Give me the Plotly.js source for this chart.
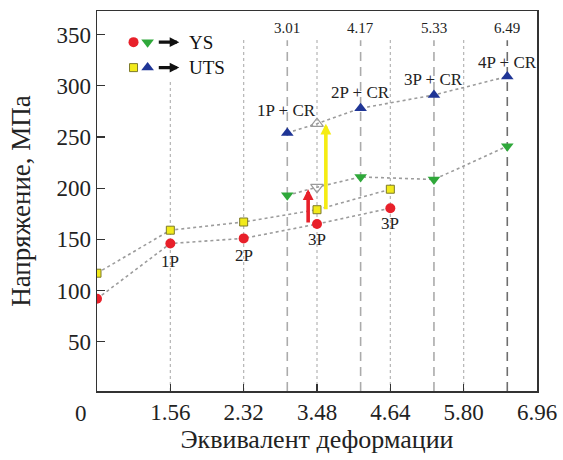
<!DOCTYPE html>
<html>
<head>
<meta charset="utf-8">
<script src="https://cdn.plot.ly/plotly-3.0.1.min.js"></script>
<style>html,body{margin:0;padding:0;background:#fff;}#chart{width:563px;height:460px;}</style>
</head>
<body>
<div id="chart"></div>
<script>
// ---- data ----
const xPass = [0, 1.16, 2.32, 3.48, 4.64];
const ysPass = [92, 146, 151, 165, 180.5];
const utsPass = [117, 159, 167, 179, 199];
const passLabels = ['', '1P', '2P', '3P', '3P'];

const xCR = [3.01, 3.48, 4.17, 5.33, 6.49];
const ysCR = [193, 201, 211, 208.5, 241];
const utsCR = [254, 263, 278, 291, 309];
const crLabels = ['1P + CR', '', '2P + CR', '3P + CR', '4P + CR'];
const crOpen = [false, true, false, false, false];

const dashedX = [3.01, 4.17, 5.33, 6.49];
const dashedText = ['3.01', '4.17', '5.33', '6.49'];
const gridX = [1.16, 2.32, 3.48, 4.64, 5.80];
const tickVals = [1.16, 2.32, 3.48, 4.64, 5.80, 6.96];
const tickText = ['1.56', '2.32', '3.48', '4.64', '5.80', '6.96'];
const yTicks = [50, 100, 150, 200, 250, 300, 350];

const arrowX = [3.34, 3.62];
const arrowFrom = [165, 178];
const arrowTo = [199, 263];
const arrowColor = ['#e8202a', '#f5ec12'];

const legendNames = ['YS', 'UTS'];

// ---- styles ----
const FONT = 'Liberation Serif, Times New Roman, serif';
const RED = '#e8202a', YEL = '#f2ea1a', GRN = '#2fa83a', BLU = '#1f3596', OPEN = '#9a9a9a';
const lineStyle = {color: '#9c9c9c', width: 1.6, dash: 'dot'};

const traces = [];
traces.push({x: xPass, y: ysPass, mode: 'lines+markers', line: lineStyle,
  marker: {symbol: 'circle', size: 10, color: RED}, showlegend: false, hoverinfo: 'skip'});
traces.push({x: xPass, y: utsPass, mode: 'lines+markers', line: lineStyle,
  marker: {symbol: 'square', size: 8, color: YEL, line: {color: '#7d7a2a', width: 1}}, showlegend: false, hoverinfo: 'skip'});
traces.push({x: xCR, y: ysCR, mode: 'lines+markers', line: lineStyle,
  marker: {symbol: crOpen.map(o => o ? 'triangle-down-open' : 'triangle-down'), size: 11,
    color: crOpen.map(o => o ? OPEN : GRN), line: {width: crOpen.map(o => o ? 1.2 : 0), color: OPEN}}, showlegend: false, hoverinfo: 'skip'});
traces.push({x: xCR, y: utsCR, mode: 'lines+markers', line: lineStyle,
  marker: {symbol: crOpen.map(o => o ? 'triangle-up-open' : 'triangle-up'), size: 11,
    color: crOpen.map(o => o ? OPEN : BLU), line: {width: crOpen.map(o => o ? 1.2 : 0), color: OPEN}}, showlegend: false, hoverinfo: 'skip'});

// legend symbols on an overlay paper-like axis
const legX = [0.083, 0.115];
const legY = [0.918, 0.851];
traces.push({x: [legX[0]], y: [legY[0]], xaxis: 'x2', yaxis: 'y2', mode: 'markers', marker: {symbol: 'circle', size: 10, color: RED}, showlegend: false, hoverinfo: 'skip'});
traces.push({x: [legX[1]], y: [legY[0]], xaxis: 'x2', yaxis: 'y2', mode: 'markers', marker: {symbol: 'triangle-down', size: 11, color: GRN}, showlegend: false, hoverinfo: 'skip'});
traces.push({x: [legX[0]], y: [legY[1]], xaxis: 'x2', yaxis: 'y2', mode: 'markers', marker: {symbol: 'square', size: 8, color: YEL, line: {color: '#7d7a2a', width: 1}}, showlegend: false, hoverinfo: 'skip'});
traces.push({x: [legX[1]], y: [legY[1]], xaxis: 'x2', yaxis: 'y2', mode: 'markers', marker: {symbol: 'triangle-up', size: 11, color: BLU}, showlegend: false, hoverinfo: 'skip'});

const shapes = [];
gridX.forEach((gx, i) => {
  shapes.push({type: 'line', xref: 'x', yref: 'paper', x0: gx, x1: gx, y0: 0, y1: i === 0 ? 0.818 : 0.926,
    line: {color: '#b5b5b5', width: 1.2, dash: 'dot'}, layer: 'below'});
});
dashedX.forEach((dx, i) => {
  shapes.push({type: 'line', xref: 'x', yref: 'paper', x0: dx, x1: dx, y0: 0, y1: 0.923,
    line: {color: i === dashedX.length - 1 ? '#6e6e6e' : '#ababab', width: 1.6, dash: '9px,6px'}, layer: 'below'});
});

const annotations = [];
dashedX.forEach((dx, i) => {
  annotations.push({x: dx, y: 0.954, xref: 'x', yref: 'paper', yanchor: 'middle', text: dashedText[i], showarrow: false,
    font: {family: FONT, size: 15, color: '#222'}});
});
const passShift = [0, -18, -17, -15, -15];
xPass.forEach((px, i) => {
  if (!passLabels[i]) return;
  annotations.push({x: px, y: ysPass[i], text: passLabels[i], showarrow: false, yshift: passShift[i],
    font: {family: FONT, size: 17, color: '#222'}});
});
const crShift = [22, 0, 16, 15, 14];
xCR.forEach((cx, i) => {
  if (!crLabels[i]) return;
  annotations.push({x: cx, y: utsCR[i], text: crLabels[i], showarrow: false, yshift: crShift[i], xshift: i === 0 ? -1 : 0,
    font: {family: FONT, size: 17, color: '#222'}});
});
arrowX.forEach((ax, i) => {
  annotations.push({x: ax, y: arrowTo[i], ax: ax, ay: arrowFrom[i], xref: 'x', yref: 'y', axref: 'x', ayref: 'y',
    text: '', showarrow: true, arrowhead: 2, arrowsize: 0.6, arrowwidth: 3.6, arrowcolor: arrowColor[i]});
});
// legend arrows and text
legY.forEach((ly, i) => {
  annotations.push({x: 0.187, y: ly, xref: 'paper', yref: 'paper', ax: -22, ay: 0, text: '', showarrow: true,
    arrowhead: 2, arrowsize: 0.6, arrowwidth: 3.2, arrowcolor: '#111'});
  annotations.push({x: 0.205, y: ly, xref: 'paper', yref: 'paper', xanchor: 'left', yanchor: 'middle', text: legendNames[i], showarrow: false,
    font: {family: FONT, size: 19, color: '#111'}});
});
// origin label
annotations.push({x: -0.036, y: -0.058, xref: 'paper', yref: 'paper', xanchor: 'center', yanchor: 'middle', text: '0', showarrow: false,
  font: {family: FONT, size: 23, color: '#222'}});

const layout = {
  width: 563, height: 460,
  margin: {l: 97, r: 26, t: 11, b: 69},
  paper_bgcolor: '#fff', plot_bgcolor: '#fff',
  font: {family: FONT, color: '#222'},
  xaxis: {range: [0, 6.96], tickvals: tickVals, ticktext: tickText, ticks: 'inside', ticklen: 7, tickwidth: 1.3,
    tickcolor: '#333', showline: true, linecolor: '#333', linewidth: 1.5, mirror: true, showgrid: false, zeroline: false,
    tickfont: {family: FONT, size: 23, color: '#222'},
    title: {text: 'Эквивалент деформации', font: {family: FONT, size: 26, color: '#222'}, standoff: 4}},
  yaxis: {range: [2, 373], tickvals: yTicks, ticks: 'inside', ticklen: 8, tickwidth: 1.3, tickcolor: '#333',
    showline: true, linecolor: '#333', linewidth: 1.5, mirror: true, showgrid: false, zeroline: false,
    tickfont: {family: FONT, size: 23, color: '#222'},
    title: {text: 'Напряжение, МПа', font: {family: FONT, size: 27, color: '#222'}, standoff: 18}},
  xaxis2: {overlaying: 'x', range: [0, 1], visible: false, fixedrange: true},
  yaxis2: {overlaying: 'y', range: [0, 1], visible: false, fixedrange: true},
  shapes: shapes,
  annotations: annotations
};

Plotly.newPlot('chart', traces, layout, {displayModeBar: false, staticPlot: true});
</script>
</body>
</html>
